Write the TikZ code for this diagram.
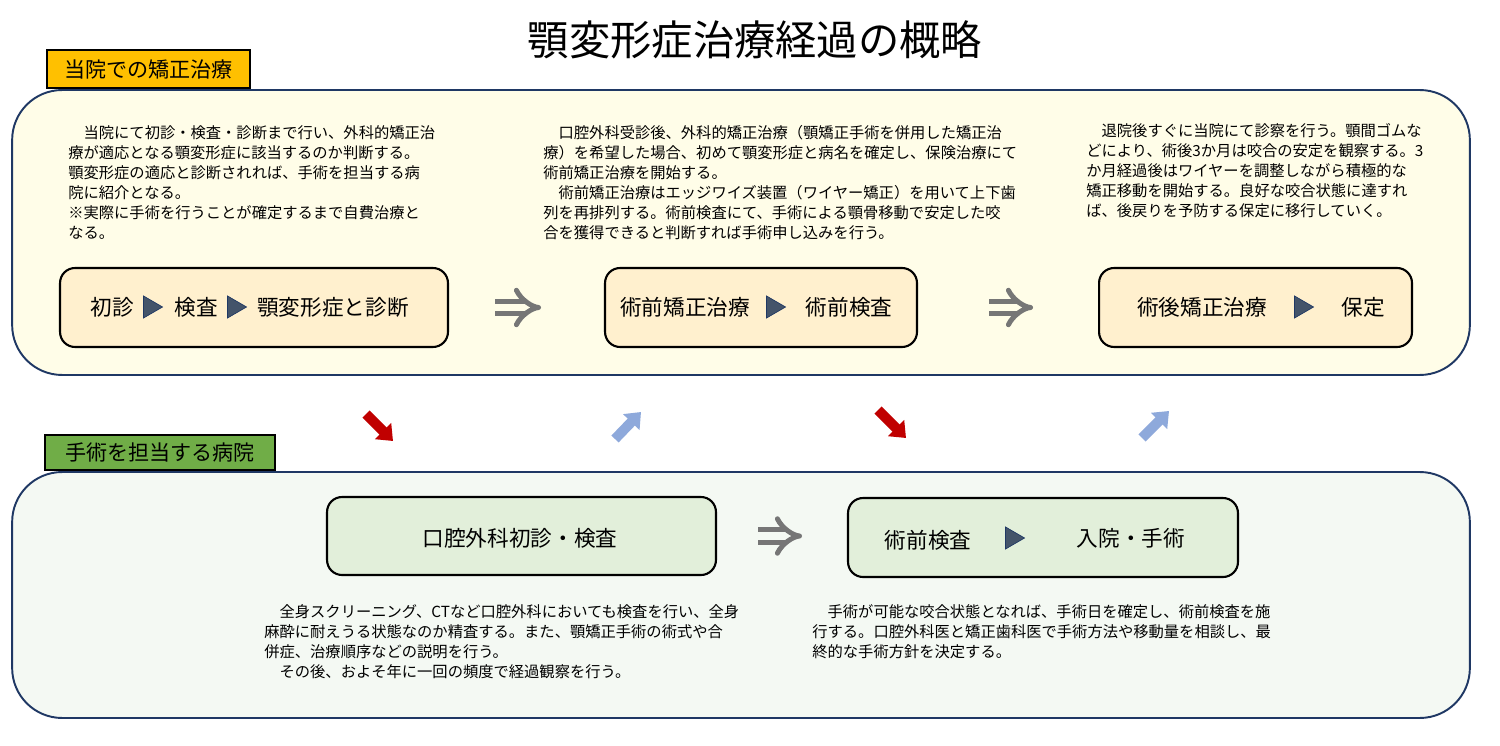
\documentclass[tikz,border=0pt]{standalone}
\usepackage{fontspec}
\newfontfamily\jpfont{Noto Sans CJK JP}
\usepackage{tikz}
\usetikzlibrary{arrows.meta,positioning}

\definecolor{panelline}{HTML}{1F3864}
\definecolor{clinicfill}{HTML}{FFFDE8}
\definecolor{hospfill}{HTML}{F4F9F3}
\definecolor{clinicstep}{HTML}{FFF0CE}
\definecolor{hospstep}{HTML}{E2EFDA}
\definecolor{tagorange}{HTML}{FFC000}
\definecolor{taggreen}{HTML}{70AD47}
\definecolor{trifill}{HTML}{44546A}
\definecolor{impgray}{HTML}{767676}
\definecolor{arrowred}{HTML}{C00000}
\definecolor{arrowblue}{HTML}{8EA9DB}

% small triangle between two step labels
\newcommand{\steptri}[1]{\filldraw[draw=panelline, fill=trifill, line width=0.4pt] (#1) +(-9.5,-11) -- +(9.5,0) -- +(-9.5,11) -- cycle;}

\begin{document}
\begin{tikzpicture}
[x=0.02cm, y=-0.02cm,
% STYLES
% The panel style is used for the two large rounded frames
panel/.style={draw=panelline, line width=1.1pt, rounded corners=1cm, inner sep=0pt},
% The tag style is used for the heading above each frame
tag/.style={draw=black, line width=1pt, inner sep=0pt, anchor=south west, font=\jpfont\fontsize{12}{14}\selectfont},
% The stepbox style is used for the boxes listing the steps
stepbox/.style={draw=black, line width=1.2pt, rounded corners=0.3cm, inner sep=0pt, minimum height=1.58cm},
steplabel/.style={inner sep=0pt, font=\jpfont\fontsize{12.3}{14}\selectfont},
% The note style is used for the explanations
note/.style={anchor=north west, align=left, inner sep=0pt, font=\jpfont\fontsize{8.7}{11.4}\selectfont},
implies/.style={draw=impgray, line width=0.1cm, double distance=0.16cm, -{Implies}},
godown/.style={draw=arrowred, line width=0.2cm, -{Triangle[width=0.44cm,length=0.28cm]}},
goup/.style={draw=arrowblue, line width=0.2cm, -{Triangle[width=0.44cm,length=0.28cm]}}]

\useasboundingbox[fill=white] (0,0) rectangle (1500,746);

% Title
\node [inner sep=0pt, font=\jpfont\fontsize{23.5}{26}\selectfont] (title) at (755,40) {顎変形症治療経過の概略};

% Draw frames
\node [panel, fill=clinicfill, minimum width=29.16cm, minimum height=5.7cm] (clinic) at (741,232.5) {};
\node [panel, fill=hospfill, minimum width=29.16cm, minimum height=4.92cm] (hospital) at (741,595) {};
\node [tag, fill=tagorange, minimum width=4.06cm, minimum height=0.76cm, xshift=0.7cm] (clinictag) at (clinic.north west) {当院での矯正治療};
\node [tag, fill=taggreen, minimum width=4.6cm, minimum height=0.7cm, xshift=0.66cm] (hosptag) at (hospital.north west) {手術を担当する病院};

% Draw steps
\node [stepbox, fill=clinicstep, minimum width=7.76cm] (firstvisit) at (254,307.5) {};
\node [stepbox, fill=clinicstep, minimum width=6.24cm, right=3.1cm of firstvisit] (preop) {};
\node [stepbox, fill=clinicstep, minimum width=6.26cm, right=3.6cm of preop] (postop) {};
\node [stepbox, fill=hospstep, minimum width=7.78cm, minimum height=1.56cm] (oralsurg) at (521.5,536) {};
\node [stepbox, fill=hospstep, minimum width=7.8cm] (surgery) at (1043,537.5) {};

%%%%%%%%%%%%%%%
% Step labels

% firstvisit
\node [steplabel] at (112,307) {初診};
\steptri{153,307}
\node [steplabel] at (196,307) {検査};
\steptri{237,307}
\node [steplabel] at (333,307) {顎変形症と診断};

% preop
\node [steplabel] at (685,307) {術前矯正治療};
\steptri{776,307}
\node [steplabel] at (849,307) {術前検査};

% postop
\node [steplabel] at (1202,307) {術後矯正治療};
\steptri{1304,307}
\node [steplabel] at (1363,307) {保定};

% oralsurg
\node [steplabel] at (520,538) {口腔外科初診・検査};

% surgery
\node [steplabel] at (928,540) {術前検査};
\steptri{1015,538}
\node [steplabel] at (1131,538) {入院・手術};

%%%%%%%%%%%%%%%
% Notes

\node [note] (note-firstvisit) at (68,125) {　当院にて初診・検査・診断まで行い、外科的矯正治\\
療が適応となる顎変形症に該当するのか判断する。\\
顎変形症の適応と診断されれば、手術を担当する病\\
院に紹介となる。\\
※実際に手術を行うことが確定するまで自費治療と\\
なる。};

\node [note] (note-preop) at (543,125) {　口腔外科受診後、外科的矯正治療（顎矯正手術を併用した矯正治\\
療）を希望した場合、初めて顎変形症と病名を確定し、保険治療にて\\
術前矯正治療を開始する。\\
　術前矯正治療はエッジワイズ装置（ワイヤー矯正）を用いて上下歯\\
列を再排列する。術前検査にて、手術による顎骨移動で安定した咬\\
合を獲得できると判断すれば手術申し込みを行う。};

\node [note] (note-postop) at (1086,123) {　退院後すぐに当院にて診察を行う。顎間ゴムな\\
どにより、術後3か月は咬合の安定を観察する。3\\
か月経過後はワイヤーを調整しながら積極的な\\
矯正移動を開始する。良好な咬合状態に達すれ\\
ば、後戻りを予防する保定に移行していく。};

\node [note] (note-oralsurg) at (264,604) {　全身スクリーニング、CTなど口腔外科においても検査を行い、全身\\
麻酔に耐えうる状態なのか精査する。また、顎矯正手術の術式や合\\
併症、治療順序などの説明を行う。\\
　その後、およそ年に一回の頻度で経過観察を行う。};

\node [note] (note-surgery) at (812,604) {　手術が可能な咬合状態となれば、手術日を確定し、術前検査を施\\
行する。口腔外科医と矯正歯科医で手術方法や移動量を相談し、最\\
終的な手術方針を決定する。};

%%%%%%%%%%%%%%%
% Draw the links between steps
\draw [implies, double=clinicfill, shorten <=0.92cm, shorten >=1.26cm] (firstvisit.east) -- (preop.west);
\draw [implies, double=clinicfill, shorten <=1.42cm, shorten >=1.3cm] (preop.east) -- (postop.west);
\draw [implies, double=hospfill, shorten <=0.82cm, shorten >=0.9cm] (oralsurg.east) -- (oralsurg.east -| surgery.west);

% between the frames
\coordinate (down1-s) at (366,414);
\coordinate (down1-e) at (393,441);
\coordinate (up1-s) at (615,439);
\coordinate (up1-e) at (641,412);
\coordinate (down2-s) at (878,410);
\coordinate (down2-e) at (906,438);
\coordinate (up2-s) at (1142,438);
\coordinate (up2-e) at (1169,411);
\draw [godown] (down1-s) -- (down1-e);
\draw [goup] (up1-s) -- (up1-e);
\draw [godown] (down2-s) -- (down2-e);
\draw [goup] (up2-s) -- (up2-e);

\end{tikzpicture}
\end{document}
